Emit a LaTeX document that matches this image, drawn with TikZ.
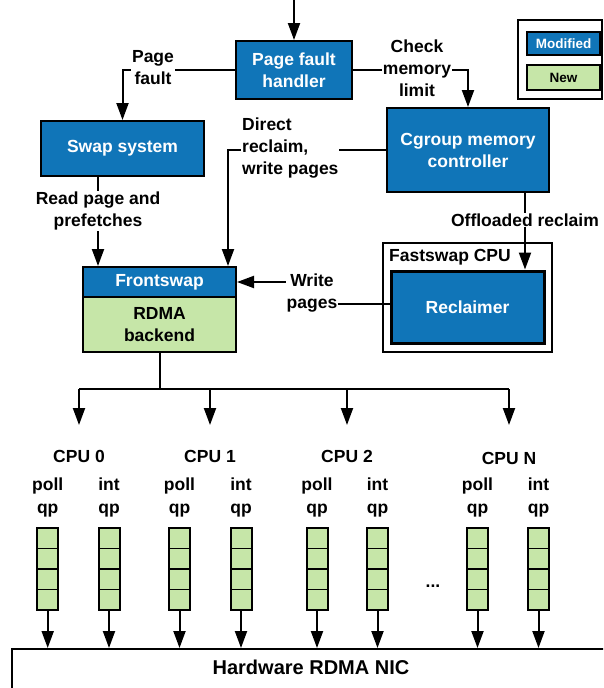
\documentclass[tikz,border=0pt]{standalone}
\usepackage{fontspec}
\setmainfont{Liberation Sans}
\usetikzlibrary{arrows.meta,calc}
\definecolor{myblue}{RGB}{16,117,184}
\definecolor{mygreen}{RGB}{198,230,168}
\newcommand\mfont{\fontsize{17.5}{22}\selectfont\bfseries}
\newcommand\sfont{\fontsize{13.5}{16}\selectfont\bfseries}
\newcommand\nfont{\fontsize{20}{24}\selectfont\bfseries}
\begin{document}
\begin{tikzpicture}[x=1pt,y=-1pt,
  box/.style={draw, line width=2pt, inner sep=0pt, align=center, font=\mfont},
  bluebox/.style={box, fill=myblue, text=white},
  greenbox/.style={box, fill=mygreen, text=black},
  lbl/.style={fill=white, inner sep=1pt, align=center, font=\mfont},
  txt/.style={inner sep=0pt, align=center, font=\mfont},
  conn/.style={line width=2pt},
  arr/.style={conn, -{Triangle[length=17pt,width=12pt]}},
  queue/.style={draw, line width=2pt, fill=mygreen, minimum width=21pt, minimum height=82pt, inner sep=0pt,
    path picture={\foreach \f in {0.25,0.5,0.75}{\draw[line width=1.8pt] ($(path picture bounding box.north west)!\f!(path picture bounding box.south west)$) -- ($(path picture bounding box.north east)!\f!(path picture bounding box.south east)$);}}}
]
\path[use as bounding box] (0,0) rectangle (603,688);
\clip (0,0) rectangle (603,688);

% boxes
\node[bluebox, minimum width=116pt, minimum height=58pt] (handler) at (294,70) {Page fault\\handler};
\node[bluebox, minimum width=163pt, minimum height=55pt] (swap) at (122.5,148.5) {Swap system};
\node[bluebox, minimum width=162pt, minimum height=84pt] (cgroup) at (468,150) {Cgroup memory\\controller};
\node[bluebox, minimum width=153pt, minimum height=30pt] (front) at (159.5,282) {Frontswap};
\node[greenbox, minimum width=153pt, minimum height=55pt] (backend) at (159.5,324.5) {RDMA\\backend};
\node[draw, line width=1.5pt, minimum width=169pt, minimum height=109pt, inner sep=0pt] (fcpu) at (467.5,297.5) {};
\node[txt, anchor=west] (fcpulbl) at (389,257) {Fastswap CPU};
\node[bluebox, line width=3pt, minimum width=153pt, minimum height=72pt] (recl) at (467.5,307) {Reclaimer};

% legend
\node[draw, line width=2pt, minimum width=84pt, minimum height=79pt, inner sep=0pt] (legend) at (560,59.5) {};
\node[bluebox, font=\sfont, minimum width=73pt, minimum height=23pt] (mod) at (563.5,43.5) {Modified};
\node[greenbox, font=\sfont, minimum width=73pt, minimum height=25pt] (new) at (563.5,77.5) {New};

% top connectors
\coordinate (topin) at (294,0);
\draw[arr] (topin) -- (handler.north);
\draw[arr] (handler.west) -| (swap.north);
\node[lbl] (pflbl) at (153,68) {Page\\fault};
\draw[arr] (handler.east) -| (cgroup.north);
\node[lbl] (chklbl) at (417,68) {Check\\memory\\limit};
\draw[arr] (cgroup.west) -| ([xshift=68.5pt]front.north);
\node[lbl, align=left, anchor=west] (dirlbl) at (241,148) {Direct\\reclaim,\\write pages};
\draw[arr] ([xshift=-24.5pt]swap.south) -- ([xshift=-61.5pt]front.north);
\node[lbl] (rdlbl) at (98,211) {Read page and\\prefetches};
\draw[arr] ([xshift=57pt]cgroup.south) -- ([xshift=57.5pt]recl.north);
\node[lbl] (offlbl) at (525,220) {Offloaded reclaim};
\draw[arr] ([yshift=3pt]recl.west) -- ++(-79,0) |- (front.east);
\node[lbl] (wrlbl) at (312,293) {Write\\pages};

% distribution
\coordinate (bus) at (159.5,389);
\coordinate (b0) at (79,389);
\coordinate (b1) at (210,389);
\coordinate (b2) at (347,389);
\coordinate (b3) at (509,389);
\coordinate (t0) at (79,425);
\coordinate (t1) at (210,425);
\coordinate (t2) at (347,425);
\coordinate (t3) at (509,425);
\draw[conn] (backend.south) -- (bus);
\draw[conn] (b0) -- (b3);
\foreach \i in {0,1,2,3} { \draw[arr] (b\i) -- (t\i); }

% CPU labels
\node[txt] (cpu0) at (79,456) {CPU 0};
\node[txt] (cpu1) at (210,456) {CPU 1};
\node[txt] (cpu2) at (347,456) {CPU 2};
\node[txt] (cpu3) at (509,458) {CPU N};

% NIC
\node[draw, line width=1.8pt, minimum width=598pt, minimum height=60pt, inner sep=0pt, anchor=north] (nic) at (311,648) {};
\node[inner sep=0pt, font=\nfont] (nictxt) at (311,667) {Hardware RDMA NIC};

% queues
\foreach \n/\x/\lab in {q0p/47.7/poll, q0i/109/int, q1p/179.5/poll, q1i/241/int, q2p/317/poll, q2i/377.5/int, q3p/477.5/poll, q3i/538.5/int} {
  \node[txt, font=\fontsize{17.5}{23}\selectfont\bfseries] (\n lbl) at (\x,497.5) {\lab\\qp};
  \node[queue] (\n) at (\x,569) {};
  \draw[arr] (\n.south) -- (\n.south |- nic.north);
}
\node[txt, anchor=base] (dots) at (433,587) {...};
\end{tikzpicture}
\end{document}
